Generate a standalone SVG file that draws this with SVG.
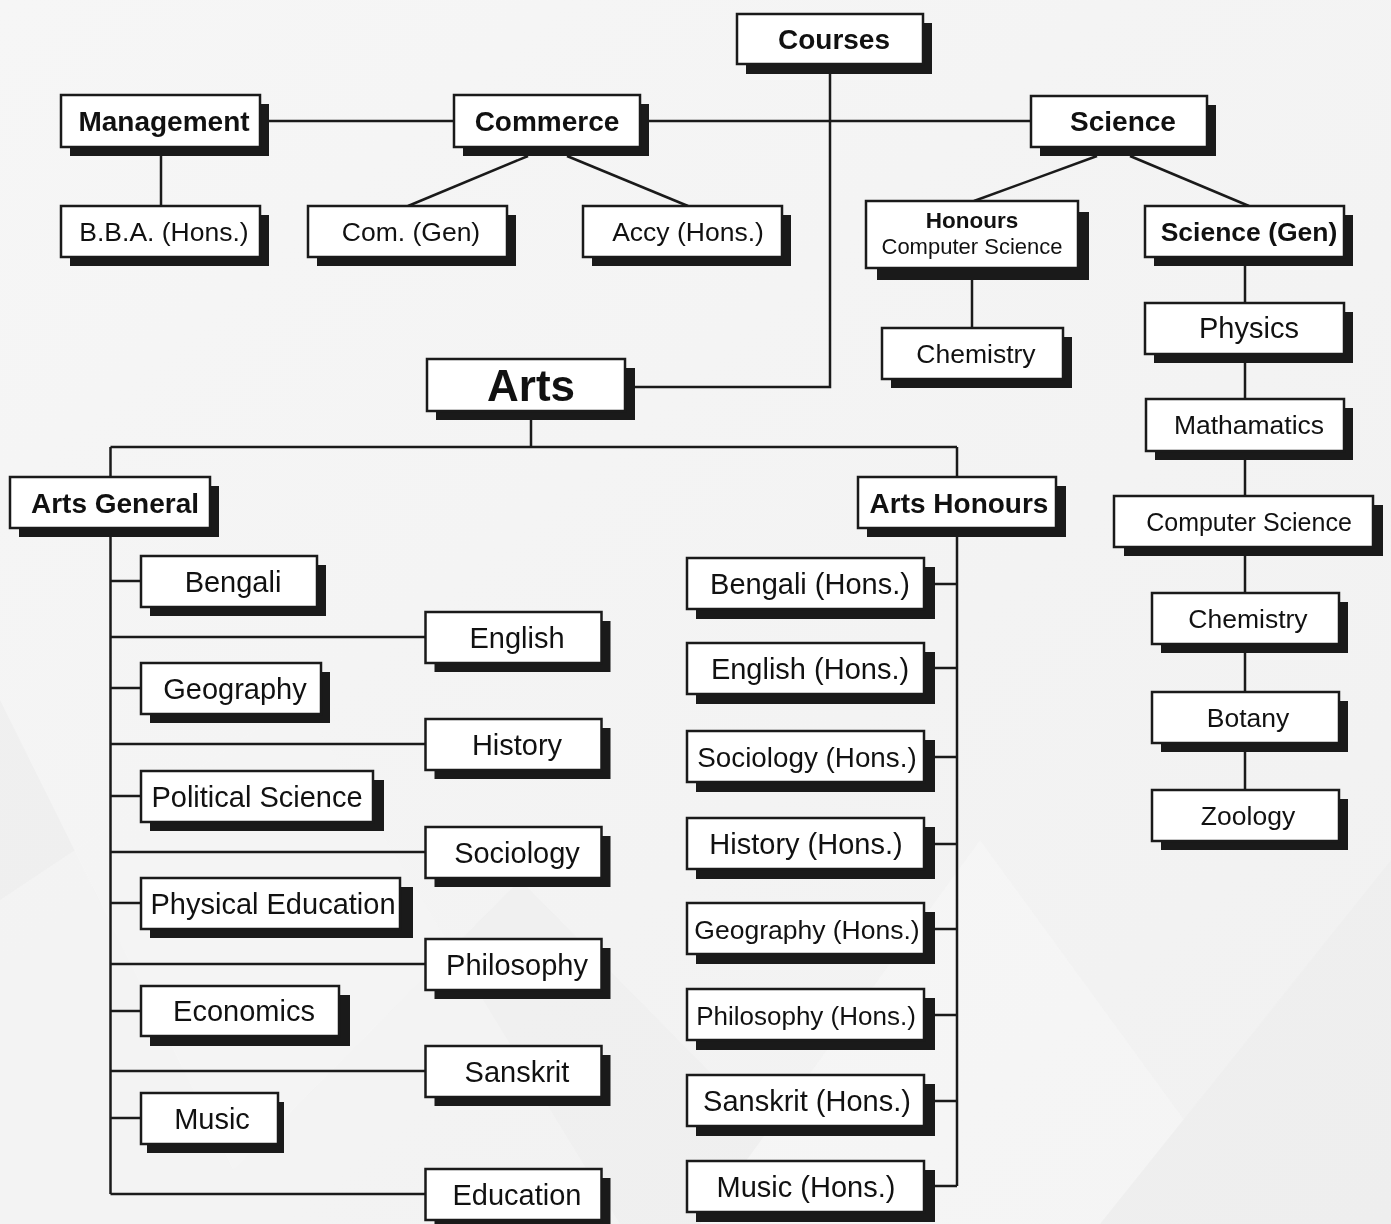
<svg xmlns="http://www.w3.org/2000/svg" width="1391" height="1224" viewBox="0 0 1391 1224">
<defs>
<linearGradient id="bgG" x1="0" y1="0" x2="1" y2="1">
<stop offset="0" stop-color="#f6f6f6"/>
<stop offset="1" stop-color="#f1f1f1"/>
</linearGradient>
</defs>
<style>
.sh{fill:#1a1a1a}
.bx{fill:#ffffff;stroke:#1a1a1a;stroke-width:2.5}
.ln{fill:none;stroke:#1a1a1a;stroke-width:2.5}
text{font-family:"Liberation Sans",Arial,Helvetica,sans-serif;fill:#111;text-anchor:middle}
.b{font-weight:bold;font-size:28px}
.t{font-size:26.5px}
.a{font-size:29px}
</style>
<rect x="0" y="0" width="1391" height="1224" fill="url(#bgG)"/>
<g id="background" opacity="0.4">
<polygon points="0,700 260,1224 0,1224" fill="#e9e9e9"/>
<polygon points="180,1224 520,880 860,1224" fill="#ebebeb"/>
<polygon points="0,900 300,700 620,1224 0,1224" fill="#f8f8f8" opacity="0.6"/>
<polygon points="700,1224 980,840 1260,1224" fill="#f9f9f9"/>
<polygon points="1100,1224 1391,860 1391,1224" fill="#ececec"/>
</g>
<g id="connectors" class="ln">
<path d="M830,74 V387 H630"/>
<path d="M260,121 H454"/>
<path d="M640,121 H1031"/>
<path d="M161,147 V206"/>
<path d="M528,156 L408,206"/>
<path d="M567,156 L688,206"/>
<path d="M1097,156 L974,201"/>
<path d="M1130,156 L1249,206"/>
<path d="M972,270 V328"/>
<path d="M1245,257 V790"/>
<path d="M531,411 V447"/>
<path d="M110.5,447 H957"/>
<path d="M110.5,447 V1194"/>
<path d="M110.5,581 H141"/>
<path d="M110.5,637 H426"/>
<path d="M110.5,688 H141"/>
<path d="M110.5,744 H426"/>
<path d="M110.5,796 H141"/>
<path d="M110.5,852 H426"/>
<path d="M110.5,903 H141"/>
<path d="M110.5,964 H426"/>
<path d="M110.5,1011 H141"/>
<path d="M110.5,1071 H426"/>
<path d="M110.5,1118 H141"/>
<path d="M110.5,1194 H426"/>
<path d="M957,447 V1186"/>
<path d="M924,584 H957"/>
<path d="M924,668 H957"/>
<path d="M924,757 H957"/>
<path d="M924,844 H957"/>
<path d="M924,929 H957"/>
<path d="M924,1015 H957"/>
<path d="M924,1101 H957"/>
<path d="M924,1186 H957"/>
</g>
<g id="courses"><rect class="sh" x="746" y="23" width="186" height="51"/><rect class="bx" x="737" y="14" width="186" height="50"/><text class="b" x="834" y="49">Courses</text></g>
<g id="management"><rect class="sh" x="70" y="104" width="199" height="52"/><rect class="bx" x="61" y="95" width="199" height="52"/><text class="b" x="164" y="131">Management</text></g>
<g id="commerce"><rect class="sh" x="463" y="104" width="186" height="52"/><rect class="bx" x="454" y="95" width="186" height="52"/><text class="b" x="547" y="131">Commerce</text></g>
<g id="science"><rect class="sh" x="1040" y="105" width="176" height="51"/><rect class="bx" x="1031" y="96" width="176" height="51"/><text class="b" x="1123" y="131">Science</text></g>
<g id="bba"><rect class="sh" x="70" y="215" width="199" height="51"/><rect class="bx" x="61" y="206" width="199" height="51"/><text class="t" x="164" y="241">B.B.A. (Hons.)</text></g>
<g id="com-gen"><rect class="sh" x="317" y="215" width="199" height="51"/><rect class="bx" x="308" y="206" width="199" height="51"/><text class="t" x="411" y="241">Com. (Gen)</text></g>
<g id="accy"><rect class="sh" x="592" y="215" width="199" height="51"/><rect class="bx" x="583" y="206" width="199" height="51"/><text class="t" x="688" y="241">Accy (Hons.)</text></g>
<g id="honours-cs"><rect class="sh" x="877" y="212" width="212" height="68"/><rect class="bx" x="866" y="201" width="212" height="67"/><text x="972" y="228" style="font-weight:bold;font-size:22.5px">Honours</text><text x="972" y="254" style="font-size:22px">Computer Science</text></g>
<g id="chemistry-hons"><rect class="sh" x="891" y="337" width="181" height="51"/><rect class="bx" x="882" y="328" width="181" height="51"/><text class="t" x="976" y="363">Chemistry</text></g>
<g id="science-gen"><rect class="sh" x="1154" y="215" width="199" height="51"/><rect class="bx" x="1145" y="206" width="199" height="51"/><text class="b" x="1249" y="241" style="font-size:26.5px">Science (Gen)</text></g>
<g id="physics"><rect class="sh" x="1154" y="312" width="199" height="51"/><rect class="bx" x="1145" y="303" width="199" height="51"/><text class="a" x="1249" y="338">Physics</text></g>
<g id="mathamatics"><rect class="sh" x="1155" y="408" width="198" height="52"/><rect class="bx" x="1146" y="399" width="198" height="52"/><text class="t" x="1249" y="434">Mathamatics</text></g>
<g id="computer-science"><rect class="sh" x="1124" y="505" width="259" height="51"/><rect class="bx" x="1114" y="496" width="259" height="51"/><text x="1249" y="531" style="font-size:25px">Computer Science</text></g>
<g id="chemistry-gen"><rect class="sh" x="1161" y="602" width="187" height="51"/><rect class="bx" x="1152" y="593" width="187" height="51"/><text class="t" x="1248" y="628">Chemistry</text></g>
<g id="botany"><rect class="sh" x="1161" y="701" width="187" height="51"/><rect class="bx" x="1152" y="692" width="187" height="51"/><text class="t" x="1248" y="727">Botany</text></g>
<g id="zoology"><rect class="sh" x="1161" y="799" width="187" height="51"/><rect class="bx" x="1152" y="790" width="187" height="51"/><text class="t" x="1248" y="825">Zoology</text></g>
<g id="arts"><rect class="sh" x="436" y="368" width="199" height="52"/><rect class="bx" x="427" y="359" width="198" height="52"/><text class="b" x="531" y="401" style="font-size:44px">Arts</text></g>
<g id="arts-general"><rect class="sh" x="19" y="486" width="200" height="51"/><rect class="bx" x="10" y="477" width="200" height="51"/><text class="b" x="115" y="513">Arts General</text></g>
<g id="arts-honours"><rect class="sh" x="867" y="486" width="199" height="51"/><rect class="bx" x="858" y="477" width="198" height="51"/><text class="b" x="959" y="513">Arts Honours</text></g>
<g id="bengali"><rect class="sh" x="150" y="565" width="176" height="51"/><rect class="bx" x="141" y="556" width="176" height="51"/><text class="a" x="233" y="592">Bengali</text></g>
<g id="english"><rect class="sh" x="434.5" y="621" width="176" height="51"/><rect class="bx" x="425.5" y="612" width="176" height="51"/><text class="a" x="517" y="648">English</text></g>
<g id="geography"><rect class="sh" x="150" y="672" width="180" height="51"/><rect class="bx" x="141" y="663" width="180" height="51"/><text class="a" x="235" y="699">Geography</text></g>
<g id="history"><rect class="sh" x="434.5" y="728" width="176" height="51"/><rect class="bx" x="425.5" y="719" width="176" height="51"/><text class="a" x="517" y="755">History</text></g>
<g id="political-science"><rect class="sh" x="150" y="780" width="234" height="51"/><rect class="bx" x="141" y="771" width="232" height="51"/><text class="a" x="257" y="807">Political Science</text></g>
<g id="sociology"><rect class="sh" x="434.5" y="836" width="176" height="51"/><rect class="bx" x="425.5" y="827" width="176" height="51"/><text class="a" x="517" y="863">Sociology</text></g>
<g id="physical-education"><rect class="sh" x="150" y="887" width="263" height="51"/><rect class="bx" x="141" y="878" width="259" height="51"/><text class="a" x="273" y="914">Physical Education</text></g>
<g id="philosophy"><rect class="sh" x="434.5" y="948" width="176" height="51"/><rect class="bx" x="425.5" y="939" width="176" height="51"/><text class="a" x="517" y="975">Philosophy</text></g>
<g id="economics"><rect class="sh" x="150" y="995" width="200" height="51"/><rect class="bx" x="141" y="986" width="198" height="50"/><text class="a" x="244" y="1021">Economics</text></g>
<g id="sanskrit"><rect class="sh" x="434.5" y="1055" width="176" height="51"/><rect class="bx" x="425.5" y="1046" width="176" height="51"/><text class="a" x="517" y="1082">Sanskrit</text></g>
<g id="music"><rect class="sh" x="147" y="1102" width="137" height="51"/><rect class="bx" x="141" y="1093" width="137" height="51"/><text class="a" x="212" y="1129">Music</text></g>
<g id="education"><rect class="sh" x="434.5" y="1178" width="176" height="51"/><rect class="bx" x="425.5" y="1169" width="176" height="51"/><text class="a" x="517" y="1205">Education</text></g>
<g id="bengali-hons"><rect class="sh" x="696" y="567" width="239" height="52"/><rect class="bx" x="687" y="558" width="237" height="51"/><text class="a" x="810" y="594">Bengali (Hons.)</text></g>
<g id="english-hons"><rect class="sh" x="696" y="652" width="239" height="52"/><rect class="bx" x="687" y="643" width="237" height="51"/><text class="a" x="810" y="679">English (Hons.)</text></g>
<g id="sociology-hons"><rect class="sh" x="696" y="740" width="239" height="52"/><rect class="bx" x="687" y="731" width="237" height="51"/><text x="807" y="767" style="font-size:27.8px">Sociology (Hons.)</text></g>
<g id="history-hons"><rect class="sh" x="696" y="827" width="239" height="52"/><rect class="bx" x="687" y="818" width="237" height="51"/><text class="a" x="806" y="854">History (Hons.)</text></g>
<g id="geography-hons"><rect class="sh" x="696" y="912" width="239" height="52"/><rect class="bx" x="687" y="903" width="237" height="51"/><text x="807" y="939" style="font-size:26.5px">Geography (Hons.)</text></g>
<g id="philosophy-hons"><rect class="sh" x="696" y="998" width="239" height="52"/><rect class="bx" x="687" y="989" width="237" height="51"/><text x="806" y="1025" style="font-size:26px">Philosophy (Hons.)</text></g>
<g id="sanskrit-hons"><rect class="sh" x="696" y="1084" width="239" height="52"/><rect class="bx" x="687" y="1075" width="237" height="51"/><text class="a" x="807" y="1111">Sanskrit (Hons.)</text></g>
<g id="music-hons"><rect class="sh" x="696" y="1170" width="239" height="52"/><rect class="bx" x="687" y="1161" width="237" height="51"/><text class="a" x="806" y="1197">Music (Hons.)</text></g>
</svg>
